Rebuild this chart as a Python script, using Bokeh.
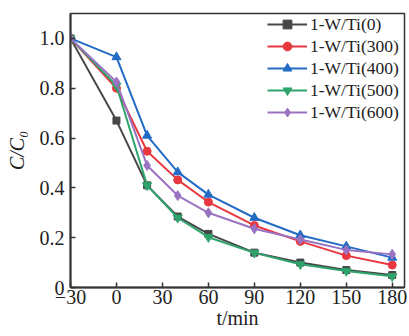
from bokeh.plotting import figure
from bokeh.embed import file_html
from bokeh.resources import INLINE
from bokeh.models import FixedTicker, CustomJSTickFormatter, Legend, LegendItem

t = [-30, 0, 20, 40, 60, 90, 120, 150, 180]
s_0 = [1.0, 0.67, 0.41, 0.285, 0.215, 0.14, 0.10, 0.07, 0.05]
s_300 = [1.0, 0.80, 0.547, 0.432, 0.343, 0.249, 0.185, 0.128, 0.09]
s_400 = [1.0, 0.925, 0.61, 0.463, 0.373, 0.28, 0.21, 0.165, 0.12]
s_500 = [1.0, 0.81, 0.41, 0.28, 0.202, 0.139, 0.093, 0.066, 0.045]
s_600 = [1.0, 0.825, 0.49, 0.369, 0.30, 0.236, 0.193, 0.151, 0.133]
names = ["1-W/Ti(0)", "1-W/Ti(300)", "1-W/Ti(400)", "1-W/Ti(500)", "1-W/Ti(600)"]
x_ticks = [-30, 0, 30, 60, 90, 120, 150, 180]
y_ticks = [0, 0.2, 0.4, 0.6, 0.8, 1.0]
x_title = "t/min"
y_title = "C/C\u2080"

series = [s_0, s_300, s_400, s_500, s_600]
colors = ["#474747", "#e8383f", "#236bc4", "#2ea36c", "#9a72c2"]
markers = ["square", "circle", "triangle", "inverted_triangle", "diamond"]
msizes = [7, 8, 9, 9, 10]

FONT = "Liberation Serif"

p = figure(width=409, height=336, x_range=(-30, 188), y_range=(0, 1.1),
           output_backend="svg", toolbar_location=None,
           min_border_left=70, min_border_right=5, min_border_top=13, min_border_bottom=49)
p.background_fill_color = "white"
p.border_fill_color = "white"
p.grid.visible = False
p.outline_line_color = "#333333"
p.outline_line_width = 1.5

for ax in (p.xaxis[0], p.yaxis[0]):
    ax.axis_line_color = "#333333"
    ax.axis_line_width = 2
    ax.major_tick_in = 5
    ax.major_tick_out = 0
    ax.major_tick_line_width = 1.5
    ax.major_tick_line_color = "#333333"
    ax.minor_tick_line_color = None
    ax.major_label_text_font = FONT
    ax.major_label_text_font_size = "20px"
    ax.major_label_text_color = "#222222"
    ax.axis_label_text_font = FONT
    ax.axis_label_text_font_size = "20px"
    ax.axis_label_text_color = "#222222"

p.xaxis.ticker = FixedTicker(ticks=x_ticks)
p.yaxis.ticker = FixedTicker(ticks=y_ticks)
p.xaxis.formatter = CustomJSTickFormatter(code="return tick < 0 ? '\u2212' + Math.abs(tick) : String(tick);")
p.yaxis.formatter = CustomJSTickFormatter(code="return tick == 0 ? '0' : tick.toFixed(1);")
p.xaxis.major_label_standoff = 2
p.yaxis.major_label_standoff = 6

p.xaxis.axis_label = x_title
p.xaxis.axis_label_text_font_style = "normal"
p.xaxis.axis_label_standoff = 0
p.yaxis.axis_label = y_title
p.yaxis.axis_label_text_font_style = "italic"
p.yaxis.axis_label_standoff = 9

items = []
for s, c, m, ms, n in zip(series, colors, markers, msizes, names):
    r1 = p.line(t, s, line_color=c, line_width=2)
    r2 = p.scatter(t, s, marker=m, size=ms, fill_color=c, line_color=c)
    items.append(LegendItem(label=n, renderers=[r1, r2]))

leg = Legend(items=items, location="top_right")
leg.border_line_color = None
leg.background_fill_alpha = 0
leg.label_text_font = FONT
leg.label_text_font_size = "17.5px"
leg.label_text_color = "#222222"
leg.glyph_width = 40
leg.glyph_height = 22
leg.label_height = 22
leg.label_width = 94
leg.label_standoff = 3
leg.spacing = 0
leg.padding = 0
leg.margin = 0
p.add_layout(leg)

open("out.html", "w").write(file_html(p, INLINE))
